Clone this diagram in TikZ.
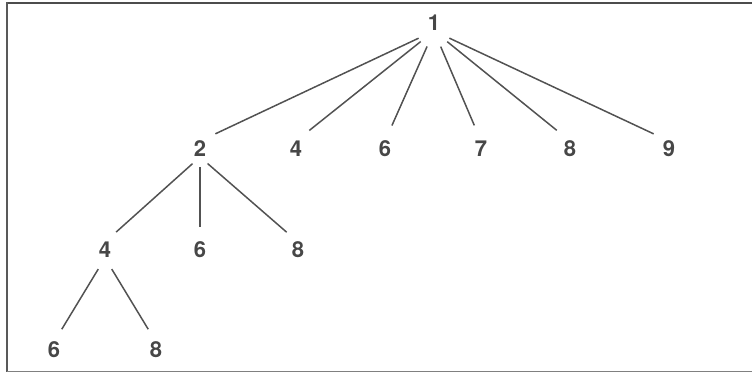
\documentclass[tikz,border=0pt]{standalone}
\usepackage{fontspec}
\setmainfont{TeX Gyre Heros}
\begin{document}
\begin{tikzpicture}[x=1pt,y=-1pt,
  lab/.style={inner sep=0pt, text height=15.5pt, text depth=0pt, text=black!72,
    font=\fontsize{22}{22}\selectfont\bfseries},
  edge/.style={draw=black!68, line width=1.5pt},
  lvlA/.style={edge, shorten <=17pt, shorten >=17pt},
  lvlB/.style={edge, shorten <=10pt, shorten >=15pt},
  lvlC/.style={edge, shorten <=13pt, shorten >=15pt},
  frameline/.style={draw=black!65, line width=1.4pt}]
\useasboundingbox (0,0) rectangle (752,373);
% frame
\draw[frameline, line width=2.2pt, draw=black!70] (7,3) -- (752,3);
\draw[frameline] (7,2) -- (7,372);
\draw[frameline, draw=black!50] (7,371.5) -- (752,371.5);
% nodes
\node[lab] (n1) at (434,23) {1};
\node[lab] (a2) at (200,149) {2};
\node[lab] (a4) at (296,149) {4};
\node[lab] (a6) at (385,149) {6};
\node[lab] (a7) at (481,149) {7};
\node[lab] (a8) at (570,149) {8};
\node[lab] (a9) at (669,149) {9};
\node[lab] (b4) at (105,250) {4};
\node[lab] (b6) at (200,250) {6};
\node[lab] (b8) at (298,250) {8};
\node[lab] (c6) at (54,350) {6};
\node[lab] (c8) at (156,350) {8};
% edges
\foreach \c in {a2,a4,a6,a7,a8,a9} \draw[lvlA] (n1.south) -- (\c.north);
\foreach \c in {b4,b6,b8} \draw[lvlB] (a2.south) -- (\c.north);
\foreach \c in {c6,c8} \draw[lvlC] (b4.south) -- (\c.north);
\end{tikzpicture}
\end{document}
